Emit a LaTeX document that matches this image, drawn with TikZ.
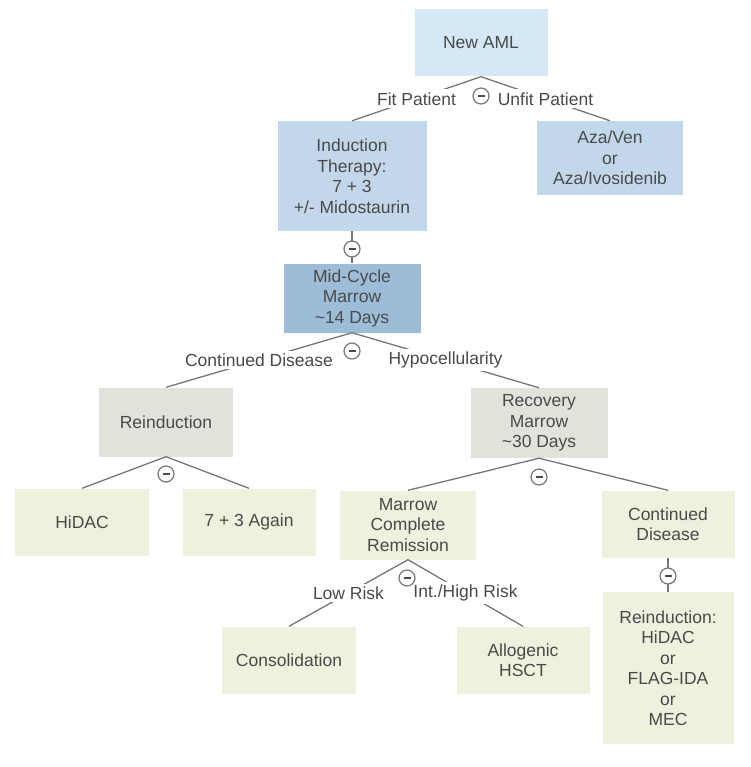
\documentclass[tikz,border=0pt]{standalone}
\usepackage{fontspec}
\setmainfont{Liberation Sans}
\usepackage{tikz}

\definecolor{blueA}{HTML}{D4E8F6}
\definecolor{blueB}{HTML}{C3D7EB}
\definecolor{blueC}{HTML}{9DBCD8}
\definecolor{greyG}{HTML}{E0E3DA}
\definecolor{leafY}{HTML}{EDF1DE}
\definecolor{inkc}{HTML}{4A4A4A}
\definecolor{linec}{HTML}{767676}

\tikzset{
    box/.style={rectangle, inner sep=0pt, minimum width=134, minimum height=67,
        align=center, text=inkc, font=\fontsize{17.5}{20.5}\selectfont},
    edge/.style={draw=linec, line width=1.3},
    lbl/.style={fill=white, inner sep=3pt, text=inkc, font=\fontsize{17.5}{20.5}\selectfont},
    fork/.style={circle, draw=linec, fill=white, line width=1.2, minimum size=16, inner sep=0pt,
        path picture={\draw[inkc, line width=1.8]
            ([xshift=-3.5]path picture bounding box.center) -- ([xshift=3.5]path picture bounding box.center);}}
}

\begin{document}
\begin{tikzpicture}[x=1pt, y=-1pt]
        \useasboundingbox (0,0) rectangle (750,767);

        % Boxes
        \node[box, fill=blueA, minimum width=133] (new) at (481,43) {New AML};
        \node[box, fill=blueB, minimum width=149, minimum height=110] (induct) at (352,176)
            {Induction\\Therapy:\\7 + 3\\+/- Midostaurin};
        \node[box, fill=blueB, minimum width=146, minimum height=74] (aza) at (610,158)
            {Aza/Ven\\or\\Aza/Ivosidenib};
        \node[box, fill=blueC, minimum width=137, minimum height=69] (mid) at (352,298)
            {Mid-Cycle\\Marrow\\\textasciitilde14 Days};
        \node[box, fill=greyG, minimum height=69] (reind) at (166,422) {Reinduction};
        \node[box, fill=greyG, minimum width=137, minimum height=70] (recov) at (539,423)
            {Recovery\\Marrow\\\textasciitilde30 Days};
        \node[box, fill=leafY] (hidac) at (82,522) {HiDAC};
        \node[box, fill=leafY, minimum width=133] (again) at (249,522) {7 + 3 Again};
        \node[box, fill=leafY, minimum width=136, minimum height=69] (remis) at (408,525)
            {Marrow\\Complete\\Remission};
        \node[box, fill=leafY, minimum width=133] (cont) at (668,524) {Continued\\Disease};
        \node[box, fill=leafY, minimum width=131, minimum height=152] (salvage) at (668,668)
            {Reinduction:\\HiDAC\\or\\FLAG-IDA\\or\\MEC};
        \node[box, fill=leafY] (consol) at (289,660) {Consolidation};
        \node[box, fill=leafY, minimum width=133] (allo) at (523,660) {Allogenic\\HSCT};

        % Connectors
        \draw[edge] (new.south) -- node[lbl] {Fit Patient} (induct.north);
        \draw[edge] (new.south) -- node[lbl] {Unfit Patient} (aza.north);
        \draw[edge] (induct.south) -- (mid.north);
        \draw[edge] (mid.south) -- node[lbl] {Continued Disease} (reind.north);
        \draw[edge] (mid.south) -- node[lbl] {Hypocellularity} (recov.north);
        \draw[edge] (reind.south) -- (hidac.north);
        \draw[edge] (reind.south) -- (again.north);
        \draw[edge] (recov.south) -- (remis.north);
        \draw[edge] (recov.south) -- (cont.north);
        \draw[edge] (cont.south) -- (salvage.north);
        \draw[edge] (remis.south) -- node[lbl] {Low Risk} (consol.north);
        \draw[edge] (remis.south) -- node[lbl] {Int./High Risk} (allo.north);

        % Collapse markers
        \node[fork] (f1) at (481,96) {};
        \node[fork] (f2) at (352,249) {};
        \node[fork] (f3) at (352,351) {};
        \node[fork] (f4) at (166,474) {};
        \node[fork] (f5) at (539,477) {};
        \node[fork] (f6) at (668,576) {};
        \node[fork] (f7) at (407,578) {};
\end{tikzpicture}
\end{document}
